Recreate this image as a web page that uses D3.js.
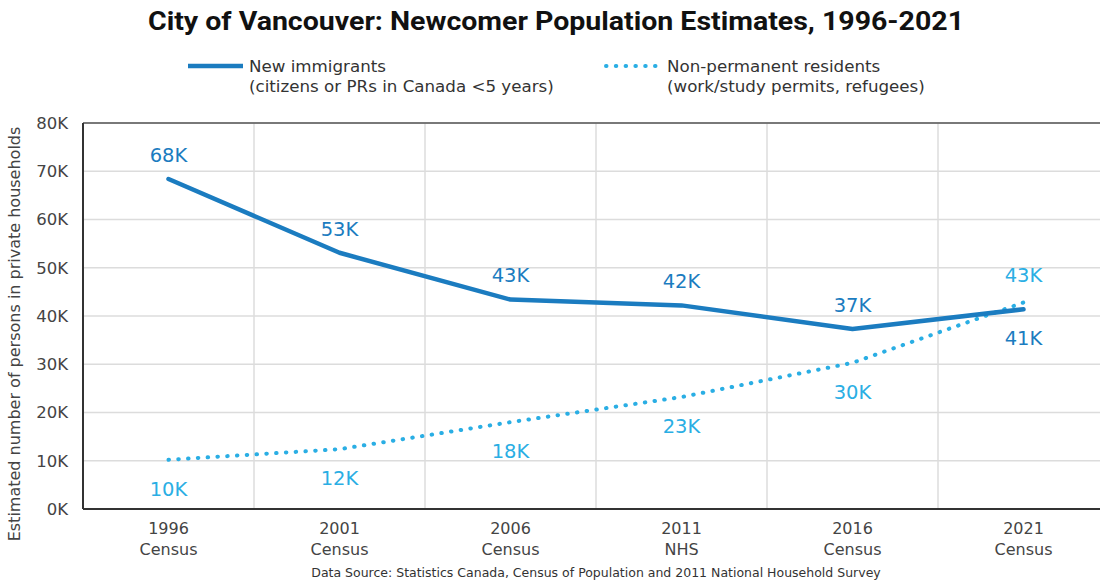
<!DOCTYPE html>
<html>
<head>
<meta charset="utf-8">
<script src="https://cdn.jsdelivr.net/npm/d3@7"></script>
<style>
  html, body { margin: 0; padding: 0; background: #fff; }
  svg { display: block; }
</style>
</head>
<body>
<svg id="chart" width="1100" height="580"></svg>
<script>
// Census years and their source labels
const years = ["1996", "2001", "2006", "2011", "2016", "2021"];
const sources = ["Census", "Census", "Census", "NHS", "Census", "Census"];
// Estimated persons (thousands)
const newImmigrants = [68.4, 53.1, 43.4, 42.2, 37.3, 41.4];
const nonPermanent = [10.2, 12.4, 18.0, 23.2, 30.3, 42.8];
const yTicks = [0, 10, 20, 30, 40, 50, 60, 70, 80];

const W = 1100, H = 580;
const margin = { top: 123, left: 83, bottom: 71, right: -9 };
const svg = d3.select("#chart");
const font = "'DejaVu Sans', sans-serif";

const x = d3.scaleBand().domain(years)
  .range([margin.left, W - margin.right]).paddingInner(0).paddingOuter(0);
const y = d3.scaleLinear().domain([0, 80]).range([H - margin.bottom, margin.top]);
const cx = d => x(d) + x.bandwidth() / 2;

const darkBlue = "#1b7cc0";
const lightBlue = "#2aaee4";

// Grid
const grid = svg.append("g");
grid.selectAll("line.h").data(yTicks).join("line")
  .attr("x1", margin.left).attr("x2", W)
  .attr("y1", d => y(d)).attr("y2", d => y(d))
  .attr("stroke", "#dcdcdc").attr("stroke-width", 1.5);
grid.selectAll("line.v").data(years.slice(1)).join("line")
  .attr("x1", d => x(d)).attr("x2", d => x(d))
  .attr("y1", y(80)).attr("y2", y(0))
  .attr("stroke", "#dcdcdc").attr("stroke-width", 1.5);

// Frame
svg.append("line").attr("x1", margin.left).attr("x2", W)
  .attr("y1", y(80)).attr("y2", y(80)).attr("stroke", "#555").attr("stroke-width", 1.5);
svg.append("line").attr("x1", margin.left).attr("x2", margin.left)
  .attr("y1", y(80)).attr("y2", y(0)).attr("stroke", "#333").attr("stroke-width", 2);
svg.append("line").attr("x1", margin.left).attr("x2", W)
  .attr("y1", y(0)).attr("y2", y(0)).attr("stroke", "#333").attr("stroke-width", 2);

// Y axis labels
svg.append("g").selectAll("text").data(yTicks).join("text")
  .attr("x", margin.left - 15).attr("y", d => y(d)).attr("dy", "0.35em")
  .attr("text-anchor", "end").attr("font-family", font).attr("font-size", 16.5)
  .attr("fill", "#444").text(d => d + "K");

svg.append("text")
  .attr("transform", `translate(20,${(y(0) + y(80)) / 2 + 18}) rotate(-90)`)
  .attr("text-anchor", "middle").attr("font-family", font).attr("font-size", 16)
  .attr("fill", "#444").text("Estimated number of persons in private households");

// X axis labels
const xl = svg.append("g").selectAll("text").data(years).join("text")
  .attr("x", d => cx(d)).attr("y", y(0) + 25)
  .attr("text-anchor", "middle").attr("font-family", font).attr("font-size", 16)
  .attr("fill", "#444");
xl.append("tspan").attr("x", d => cx(d)).text(d => d);
xl.append("tspan").attr("x", d => cx(d)).attr("dy", 21).text((d, i) => sources[i]);

// Lines
const line = d3.line().x((d, i) => cx(years[i])).y(d => y(d));
svg.append("path").datum(nonPermanent).attr("d", line)
  .attr("fill", "none").attr("stroke", lightBlue).attr("stroke-width", 4)
  .attr("stroke-linecap", "round").attr("stroke-dasharray", "0.5 9.3");
svg.append("path").datum(newImmigrants).attr("d", line)
  .attr("fill", "none").attr("stroke", darkBlue).attr("stroke-width", 4.5)
  .attr("stroke-linejoin", "round").attr("stroke-linecap", "round");

// Value labels
const fmt = v => Math.round(v) + "K";
svg.append("g").selectAll("text").data(newImmigrants).join("text")
  .attr("x", (d, i) => cx(years[i]))
  .attr("y", (d, i) => i === 5 ? y(d) + 29 : y(d) - 24)
  .attr("dy", "0.35em").attr("text-anchor", "middle")
  .attr("font-family", font).attr("font-size", 19.5).attr("fill", darkBlue)
  .text(fmt);
svg.append("g").selectAll("text").data(nonPermanent).join("text")
  .attr("x", (d, i) => cx(years[i]))
  .attr("y", (d, i) => i === 5 ? y(d) - 27 : y(d) + 29)
  .attr("dy", "0.35em").attr("text-anchor", "middle")
  .attr("font-family", font).attr("font-size", 19.5).attr("fill", lightBlue)
  .text(fmt);

// Title
svg.append("text").attr("x", 556).attr("y", 30).attr("text-anchor", "middle")
  .attr("font-family", "Roboto, sans-serif").attr("font-weight", "bold")
  .attr("font-size", 25).attr("fill", "#111")
  .attr("textLength", 816).attr("lengthAdjust", "spacingAndGlyphs")
  .text("City of Vancouver: Newcomer Population Estimates, 1996-2021");

// Legend
const legend = [
  { x: 188, color: darkBlue, dash: null, l1: "New immigrants", l2: "(citizens or PRs in Canada <5 years)" },
  { x: 606, color: lightBlue, dash: "0.5 9.3", l1: "Non-permanent residents", l2: "(work/study permits, refugees)" }
];
const lg = svg.append("g").selectAll("g").data(legend).join("g");
lg.append("line").attr("x1", d => d.x).attr("x2", d => d.x + 55)
  .attr("y1", 66).attr("y2", 66).attr("stroke", d => d.color)
  .attr("stroke-width", d => d.dash ? 4 : 4.5)
  .attr("stroke-linecap", d => d.dash ? "round" : "butt")
  .attr("stroke-dasharray", d => d.dash);
const lt = lg.append("text").attr("font-family", font).attr("font-size", 16.7).attr("fill", "#333");
lt.append("tspan").attr("x", d => d.x + 61).attr("y", 72).text(d => d.l1);
lt.append("tspan").attr("x", d => d.x + 61).attr("y", 92).text(d => d.l2);

// Source note
svg.append("text").attr("x", 596).attr("y", 577).attr("text-anchor", "middle")
  .attr("font-family", font).attr("font-size", 12.5).attr("fill", "#333")
  .text("Data Source: Statistics Canada, Census of Population and 2011 National Household Survey");
</script>
</body>
</html>
